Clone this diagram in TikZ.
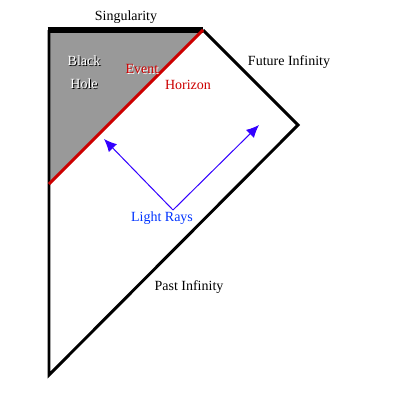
\documentclass[tikz,border=0pt]{standalone}
\usepackage{fontspec}
\setmainfont{Liberation Serif}
\usetikzlibrary{arrows.meta}
\definecolor{bhgray}{HTML}{999999}
\definecolor{hred}{HTML}{CC0000}
\definecolor{rayblue}{HTML}{3300FF}
\definecolor{txtblue}{HTML}{0033FF}
\tikzset{
  lbl/.style={inner sep=0pt, font=\fontsize{10.5pt}{12pt}\selectfont},
  edge/.style={line width=2.2pt, line join=miter},
  ray/.style={rayblue, line width=0.75pt, -{Latex[length=9.5pt,width=8.5pt]}}
}
\begin{document}
\begin{tikzpicture}[x=0.75pt,y=-0.75pt]
\useasboundingbox (0,0) rectangle (400,400);
\coordinate (tl) at (49,30);
\coordinate (tr) at (203,30);
\coordinate (rt) at (298,125);
\coordinate (bt) at (49,375);
\coordinate (hz) at (49,184);
\coordinate (apex) at (173,210);
\coordinate (lt) at (104,139);
\coordinate (rtip) at (259,125);
% black hole region
\fill[bhgray] (tl) -- (tr) -- (hz) -- cycle;
% boundary
\draw[edge] (tr) -- (rt) -- (bt) -- (tl);
\draw[line width=4pt] ([xshift=-1.1pt]tl) -- (tr);
% event horizon
\draw[hred, line width=2.2pt] (tr) -- (hz);
% light rays
\draw[ray] (apex) -- (lt);
\draw[ray] (apex) -- (rtip);
% labels
\node[lbl] (sing) at (126,17) {Singularity};
\node[lbl, black] at (85,62) {Black};
\node[lbl, white] (black) at (84,61) {Black};
\node[lbl, black] at (85,85) {Hole};
\node[lbl, white] (hole) at (84,84) {Hole};
\node[lbl, white] at (143,70) {Event};
\node[lbl, hred] (event) at (142,69) {Event};
\node[lbl, hred] (horizon) at (188,85) {Horizon};
\node[lbl] (future) at (289,62) {Future Infinity};
\node[lbl] (past) at (189,287) {Past Infinity};
\node[lbl, txtblue] (rays) at (162,218) {Light Rays};
\end{tikzpicture}
\end{document}
